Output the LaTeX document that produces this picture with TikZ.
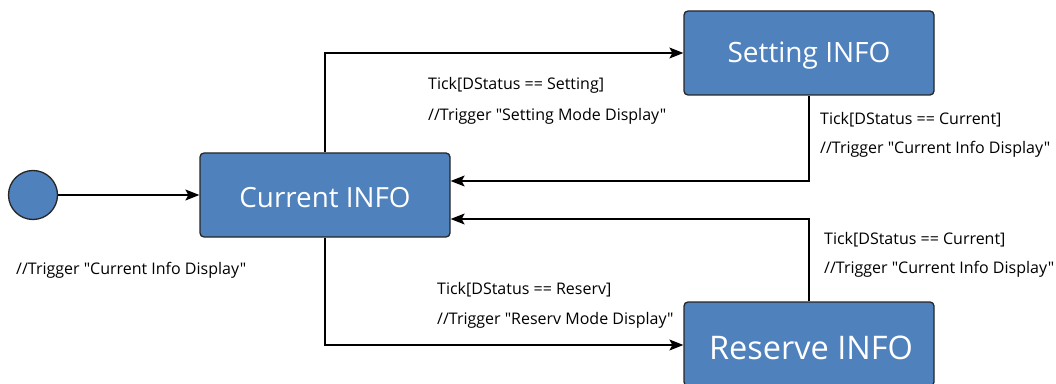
\documentclass[tikz,border=0pt]{standalone}
\usepackage{fontspec}
\setmainfont{Open Sans}[Mapping=]
\usetikzlibrary{arrows.meta}
\definecolor{stateblue}{HTML}{4F81BD}
\begin{document}
\begin{tikzpicture}[x=1pt,y=1pt,
  state/.style={draw=black!85, line width=1.3pt, fill=stateblue, rounded corners=4pt, minimum width=250pt, minimum height=84pt, inner sep=0pt},
  stext/.style={text=white, inner sep=0pt},
  conn/.style={line width=1.1pt, -{Stealth[length=14pt,width=11pt,inset=3pt]}},
  lbl/.style={anchor=west, inner sep=0pt, font=\fontsize{16}{19}\selectfont}]
\useasboundingbox (0,0) rectangle (1056,383);
\begin{scope}
\clip (0,0) rectangle (1056,383);
\node[circle, draw=black!85, line width=1.3pt, fill=stateblue, minimum size=49pt, inner sep=0pt] (init) at (33,188) {};
\node[state] (cur) at (325,188) {};
\node[stext, font=\fontsize{27.8}{32}\selectfont] (curtext) at (325,185) {Current INFO};
\node[state] (set) at (809,330) {};
\node[stext, font=\fontsize{28}{32}\selectfont] (settext) at (809,327) {Setting INFO};
\node[state] (res) at (809,39) {};
\node[stext, font=\fontsize{32.5}{38}\selectfont] (restext) at (811,35) {Reserve INFO};
\end{scope}
\coordinate (c1) at (325,330);
\coordinate (c2) at (809,202);
\coordinate (c3) at (809,164);
\coordinate (c4) at (325,38);
\draw[conn] (init) -- (cur);
\draw[conn] (cur.north) -- (c1) -- (set.west |- c1);
\draw[conn] (set.south) -- (c2) -- (cur.east |- c2);
\draw[conn] (res.north) -- (c3) -- (cur.east |- c3);
\draw[conn] (cur.south) -- (c4) -- (res.west |- c4);
\node[lbl] (l1) at (428,298) {Tick[DStatus == Setting]};
\node[lbl] (l2) at (428,267) {//Trigger "Setting Mode Display"};
\node[lbl] (l3) at (820,263) {Tick[DStatus == Current]};
\node[lbl] (l4) at (820,234) {//Trigger "Current Info Display"};
\node[lbl] (l5) at (824,143) {Tick[DStatus == Current]};
\node[lbl] (l6) at (824,114) {//Trigger "Current Info Display"};
\node[lbl] (l7) at (437,93) {Tick[DStatus == Reserv]};
\node[lbl] (l8) at (437,63) {//Trigger "Reserv Mode Display"};
\node[lbl] (l9) at (16,113) {//Trigger "Current Info Display"};
\end{tikzpicture}
\end{document}
